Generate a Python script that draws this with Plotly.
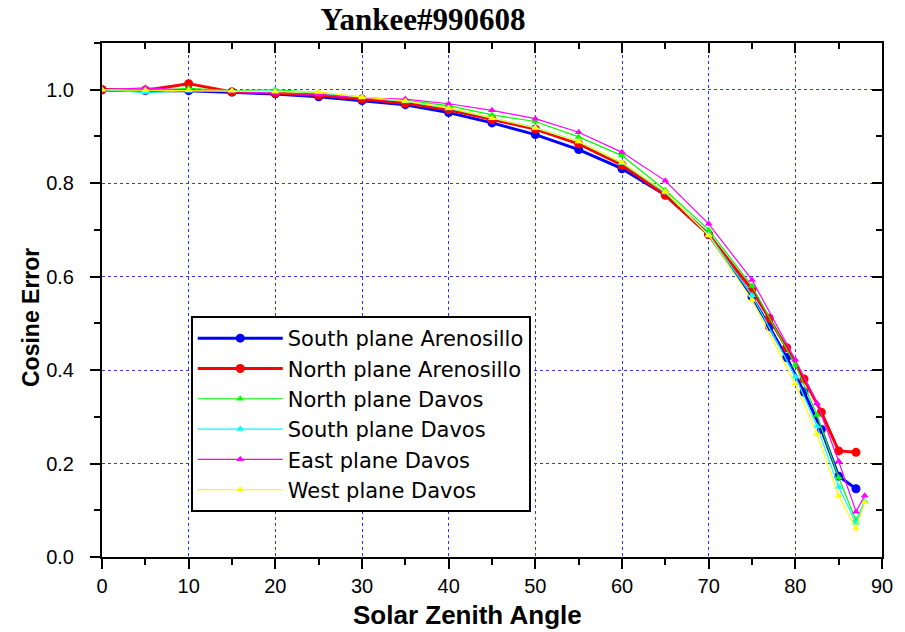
import plotly.graph_objects as go

# Arenosillo measurements
x_aren = [0, 5, 10, 15, 20, 25, 30, 35, 40, 45, 50, 55, 60, 65, 70, 75, 77, 79, 81, 83, 85, 87]
south_aren = [1.0, 0.998, 0.998, 0.995, 0.991, 0.985, 0.977, 0.968, 0.951, 0.929, 0.904, 0.872,
              0.831, 0.775, 0.690, 0.557, 0.493, 0.427, 0.353, 0.273, 0.173, 0.146]
north_aren = [1.0, 0.999, 1.013, 0.995, 0.993, 0.988, 0.980, 0.971, 0.957, 0.936, 0.916, 0.884,
              0.839, 0.774, 0.690, 0.572, 0.511, 0.448, 0.381, 0.310, 0.227, 0.224]

# Davos measurements
x_davos = [0, 5, 10, 15, 20, 25, 30, 35, 40, 45, 50, 55, 60, 65, 70, 75, 80, 82.5, 85, 87, 88]
north_davos = [1.0, 0.997, 1.003, 0.998, 1.0, 0.994, 0.984, 0.977, 0.966, 0.946, 0.932, 0.899,
               0.859, 0.785, 0.700, 0.580, 0.411, 0.304, 0.170, 0.078, 0.118]
south_davos = [1.0, 0.994, 0.998, 0.997, 0.997, 0.993, 0.983, 0.975, 0.960, 0.939, 0.919, 0.889,
               0.843, 0.780, 0.690, 0.560, 0.386, 0.280, 0.150, 0.073, 0.120]
east_davos = [1.0, 1.004, 0.999, 0.996, 0.993, 0.990, 0.982, 0.980, 0.970, 0.956, 0.938, 0.909,
              0.866, 0.805, 0.713, 0.593, 0.422, 0.329, 0.205, 0.097, 0.131]
west_davos = [1.0, 0.999, 0.999, 0.998, 0.996, 0.995, 0.984, 0.976, 0.961, 0.939, 0.918, 0.889,
              0.844, 0.782, 0.688, 0.550, 0.370, 0.263, 0.131, 0.061, 0.117]

series = [
    ("South plane Arenosillo", x_aren, south_aren, "#0000FF", "circle", 3, 9),
    ("North plane Arenosillo", x_aren, north_aren, "#FF0000", "circle", 3, 9),
    ("North plane Davos", x_davos, north_davos, "#00FF00", "triangle-up", 1.2, 7),
    ("South plane Davos", x_davos, south_davos, "#00FFFF", "triangle-up", 1.2, 7),
    ("East plane Davos", x_davos, east_davos, "#FF00FF", "triangle-up", 1.2, 7),
    ("West plane Davos", x_davos, west_davos, "#FFFF00", "triangle-up", 1.2, 7),
]

fig = go.Figure()
for name, xs, ys, col, sym, lw, ms in series:
    fig.add_trace(go.Scatter(x=xs, y=ys, name=name, mode="lines+markers",
                             line=dict(color=col, width=lw),
                             marker=dict(color=col, symbol=sym, size=ms, line=dict(width=0))))
# dummy trace for mirrored axes
fig.add_trace(go.Scatter(x=[], y=[], xaxis="x2", yaxis="y2", showlegend=False))

tickfont = dict(family="Liberation Sans, Arial, sans-serif", size=20, color="black")
common = dict(showline=True, linecolor="black", linewidth=2, ticks="outside", ticklen=10,
              tickwidth=2, tickcolor="black", zeroline=False, tickfont=tickfont,
              showgrid=True, gridcolor="#3333FF", griddash="dot", gridwidth=1)

PL, PR, PT, PB = 102, 893, 43, 557


def to_paper_x(px):
    return (px - PL) / (PR - PL)


def to_paper_y(py):
    return (PB - py) / (PB - PT)


fig.update_layout(
    width=905, height=632,
    margin=dict(l=PL, r=905 - PR, t=PT, b=632 - PB),
    paper_bgcolor="white", plot_bgcolor="white",
    title=dict(text="<b>Yankee#990608</b>", x=423 / 905, xref="container", yref="container",
               xanchor="center", y=1 - 19 / 632, yanchor="middle",
               font=dict(family="Liberation Serif, Times New Roman, serif", size=31, color="black")),
    xaxis=dict(range=[0, 90], dtick=10, tick0=0, ticklabelstandoff=0, **common,
               minor=dict(dtick=5, ticklen=6, tickwidth=2, tickcolor="black", ticks="outside", showgrid=False)),
    yaxis=dict(range=[0, 1.1], dtick=0.2, tick0=0, tickformat=".1f", ticklabelstandoff=12, **common,
               minor=dict(dtick=0.1, ticklen=6, tickwidth=2, tickcolor="black", ticks="outside", showgrid=False)),
    xaxis2=dict(range=[0, 90], overlaying="x", side="top", anchor="y", showline=True, linecolor="black",
                linewidth=2, ticks="inside", ticklen=10, tickwidth=2, tickcolor="black", dtick=10, tick0=0,
                showticklabels=False, showgrid=False, zeroline=False,
                minor=dict(dtick=5, ticklen=6, tickwidth=2, tickcolor="black", ticks="inside")),
    yaxis2=dict(range=[0, 1.1], overlaying="y", side="right", anchor="x", showline=True, linecolor="black",
                linewidth=2, ticks="inside", ticklen=10, tickwidth=2, tickcolor="black", dtick=0.2, tick0=0,
                showticklabels=False, showgrid=False, zeroline=False,
                minor=dict(dtick=0.1, ticklen=6, tickwidth=2, tickcolor="black", ticks="inside")),
    legend=dict(x=to_paper_x(192), y=to_paper_y(316), xanchor="left", yanchor="top",
                bordercolor="black", borderwidth=2, bgcolor="white",
                font=dict(family="DejaVu Sans, Verdana, sans-serif", size=21, color="black"),
                itemwidth=85),
    annotations=[
        dict(text="<b>Solar Zenith Angle</b>", x=to_paper_x(473), y=to_paper_y(615),
             xref="paper", yref="paper", showarrow=False, xanchor="center", yanchor="middle",
             font=dict(family="Liberation Sans, Arial, sans-serif", size=26, color="black")),
        dict(text="<b>Cosine Error</b>", x=to_paper_x(30), y=to_paper_y(318),
             xref="paper", yref="paper", showarrow=False, xanchor="center", yanchor="middle",
             textangle=-90,
             font=dict(family="Liberation Sans, Arial, sans-serif", size=23, color="black")),
    ],
)

fig.write_html("out.html")
